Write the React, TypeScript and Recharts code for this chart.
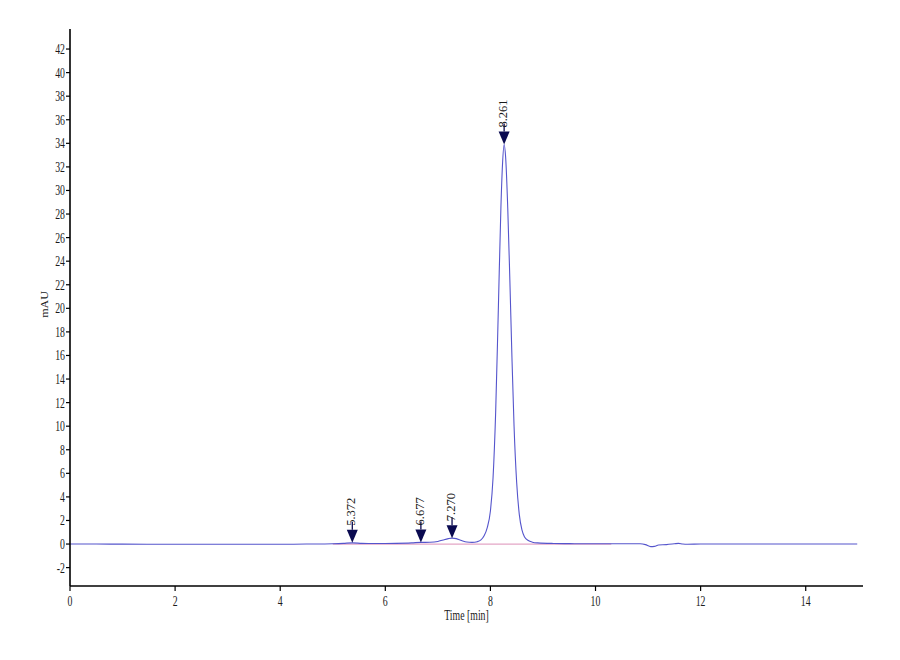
import React from 'react';
import { ComposedChart, Line, Scatter, XAxis, YAxis, Label } from 'recharts';

const times = [
  0, 0.5, 1.0, 2.0, 3.0, 4.0, 4.5, 5.0, 5.2, 5.372, 5.55, 5.8, 6.2, 6.5, 6.677, 6.85,
  7.0, 7.1, 7.2, 7.27, 7.35, 7.45, 7.55, 7.65, 7.75, 7.82, 7.88, 7.94, 8.0, 8.05, 8.1,
  8.15, 8.2, 8.23, 8.261, 8.29, 8.33, 8.37, 8.41, 8.45, 8.5, 8.55, 8.6, 8.65, 8.72,
  8.8, 8.9, 9.2, 9.6, 10.0, 10.5, 10.85, 10.95, 11.05, 11.12, 11.2, 11.35, 11.5, 11.58,
  11.66, 11.75, 12.0, 13.0, 14.0, 14.98,
];
const signal = [
  0.0, 0.0, -0.01, -0.02, -0.02, -0.02, 0.0, 0.03, 0.06, 0.1, 0.06, 0.04, 0.06, 0.1, 0.14, 0.15,
  0.22, 0.35, 0.46, 0.5, 0.46, 0.3, 0.17, 0.14, 0.2, 0.35, 0.7, 1.4, 2.8, 5.6, 11.2,
  19.8, 28.6, 32.2, 33.9, 32.8, 28.5, 22.4, 15.8, 10.0, 5.2, 2.5, 1.2, 0.6, 0.3,
  0.16, 0.1, 0.05, 0.03, 0.02, 0.02, 0.02, -0.05, -0.22, -0.2, -0.08, -0.05, 0.02, 0.06,
  0.0, -0.02, 0.0, 0.0, 0.0, 0.0,
];

const peakTimes = [5.372, 6.677, 7.27, 8.261];
const peakHeights = [0.1, 0.14, 0.5, 33.9];
const peakLabels = ['5.372', '6.677', '7.270', '8.261'];

const baselineTimes = [5.0, 10.3];
const baselineValues = [0, 0];

const xTicks = [0, 2, 4, 6, 8, 10, 12, 14];
const yTicks = [-2, 0, 2, 4, 6, 8, 10, 12, 14, 16, 18, 20, 22, 24, 26, 28, 30, 32, 34, 36, 38, 40, 42];

const curveData = times.map((t, i) => ({ t, mAU: signal[i] }));
const peakData = peakTimes.map((t, i) => ({ t, mAU: peakHeights[i], label: peakLabels[i] }));
const baselineData = baselineTimes.map((t, i) => ({ t, base: baselineValues[i] }));

const FONT = '"Liberation Serif", "Times New Roman", serif';
const SQUEEZE = 0.7;

const XTick = (props: any) => {
  const { x, y, payload } = props;
  return (
    <g transform={`translate(${x},${y}) scale(${SQUEEZE},1)`}>
      <text x={0} y={0} dy="0.71em" textAnchor="middle" fontFamily={FONT} fontSize={14} fill="#1a1a1a">
        {payload.value}
      </text>
    </g>
  );
};

const YTick = (props: any) => {
  const { x, y, payload } = props;
  return (
    <g transform={`translate(${x},${y}) scale(${SQUEEZE},1)`}>
      <text x={0} y={0} dy="0.355em" textAnchor="end" fontFamily={FONT} fontSize={14} fill="#1a1a1a">
        {payload.value}
      </text>
    </g>
  );
};

const PeakMarker = (props: any) => {
  const { cx, cy, payload } = props;
  if (cx == null || cy == null) return <g />;
  const triTop = cy - 13;
  return (
    <g>
      <line x1={cx} y1={triTop} x2={cx} y2={cy - 21} stroke="#0a0a50" strokeWidth={1.3} />
      <polygon points={`${cx - 5.5},${triTop} ${cx + 5.5},${triTop} ${cx},${cy}`} fill="#0a0a50" />
      <text
        x={cx + 3}
        y={cy - 17}
        transform={`rotate(-90, ${cx + 3}, ${cy - 17})`}
        textAnchor="start"
        fontFamily={FONT}
        fontSize={12.5}
        fill="#1a1a1a"
      >
        {payload.label}
      </text>
    </g>
  );
};

const XLabel = (props: any) => {
  const vb = props.viewBox || {};
  const cx = vb.x + vb.width / 2;
  const y = vb.y + 34;
  return (
    <g transform={`translate(${cx},${y}) scale(${SQUEEZE},1)`}>
      <text x={0} y={0} textAnchor="middle" fontFamily={FONT} fontSize={14} fill="#1a1a1a">
        Time [min]
      </text>
    </g>
  );
};

const YLabel = (props: any) => {
  const vb = props.viewBox || {};
  const x = vb.x + 40;
  const y = vb.y + vb.height / 2 - 3;
  return (
    <g transform={`translate(${x},${y}) scale(0.8,1) rotate(-90)`}>
      <text x={0} y={0} textAnchor="middle" fontFamily={FONT} fontSize={12} fill="#1a1a1a">
        mAU
      </text>
    </g>
  );
};

export default function App() {
  return (
    <div style={{ width: 884, height: 640, background: '#fff' }}>
      <ComposedChart width={884} height={640} margin={{ top: 21, right: 29, bottom: 0, left: 0 }}>
        <XAxis
          type="number"
          dataKey="t"
          domain={[0, 15.09]}
          ticks={xTicks}
          height={62}
          tickSize={5}
          tickMargin={5}
          axisLine={{ stroke: '#000', strokeWidth: 1.6 }}
          tickLine={{ stroke: '#000', strokeWidth: 1.2 }}
          tick={<XTick />}
          allowDataOverflow
        >
          <Label content={<XLabel />} />
        </XAxis>
        <YAxis
          type="number"
          domain={[-3.56, 43.7]}
          ticks={yTicks}
          width={62}
          tickSize={4}
          tickMargin={1}
          axisLine={{ stroke: '#000', strokeWidth: 1.6 }}
          tickLine={{ stroke: '#000', strokeWidth: 1.2 }}
          tick={<YTick />}
          interval={0}
          allowDataOverflow
        >
          <Label content={<YLabel />} />
        </YAxis>
        <Line
          data={baselineData}
          dataKey="base"
          type="linear"
          stroke="#e3a6c6"
          strokeWidth={1.2}
          dot={false}
          activeDot={false}
          isAnimationActive={false}
        />
        <Line
          data={curveData}
          dataKey="mAU"
          type="monotone"
          stroke="#5555cc"
          strokeWidth={1.1}
          dot={false}
          activeDot={false}
          isAnimationActive={false}
        />
        <Scatter data={peakData} dataKey="mAU" shape={<PeakMarker />} isAnimationActive={false} />
      </ComposedChart>
    </div>
  );
}
